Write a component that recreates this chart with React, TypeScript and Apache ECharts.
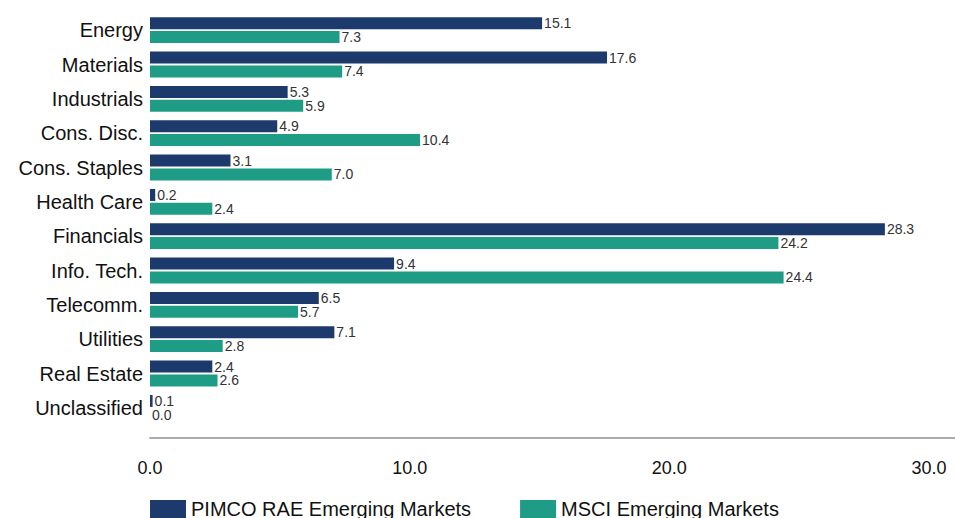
import React, { useEffect, useRef } from "react";
import * as echarts from "echarts";

const categories = [
  "Energy",
  "Materials",
  "Industrials",
  "Cons. Disc.",
  "Cons. Staples",
  "Health Care",
  "Financials",
  "Info. Tech.",
  "Telecomm.",
  "Utilities",
  "Real Estate",
  "Unclassified",
];
const pimcoValues = [15.1, 17.6, 5.3, 4.9, 3.1, 0.2, 28.3, 9.4, 6.5, 7.1, 2.4, 0.1];
const msciValues = [7.3, 7.4, 5.9, 10.4, 7.0, 2.4, 24.2, 24.4, 5.7, 2.8, 2.6, 0.0];
const seriesNames = ["PIMCO RAE Emerging Markets", "MSCI Emerging Markets"];
const xTicks = [0, 10, 20, 30];

const FONT = "'Liberation Sans', Arial, Helvetica, sans-serif";
const NAVY = "#1d3a6d";
const TEAL = "#1f9c86";

export default function App() {
  const ref = useRef<HTMLDivElement>(null);
  useEffect(() => {
    if (!ref.current) return;
    const chart = echarts.init(ref.current, null, { renderer: "svg" });
    const label = {
      show: true,
      position: "right" as const,
      distance: 2,
      color: "#333",
      fontFamily: FONT,
      fontSize: 14,
      formatter: (p: any) => Number(p.value).toFixed(1),
    };
    chart.setOption({
      animation: false,
      textStyle: { fontFamily: FONT },
      grid: { left: 150, right: 0, top: 13, bottom: 93, containLabel: false },
      legend: {
        left: 150,
        top: 499,
        padding: 0,
        itemWidth: 36,
        itemHeight: 18,
        itemGap: 49,
        icon: "rect",
        textStyle: { fontFamily: FONT, fontSize: 20, color: "#111" },
        data: seriesNames,
      },
      xAxis: {
        type: "value",
        min: 0,
        max: 31,
        interval: 10,
        offset: 13,
        splitLine: { show: false },
        axisTick: { show: false },
        axisLine: { show: true, lineStyle: { color: "#aaaaaa", width: 2 } },
        axisLabel: {
          showMaxLabel: false,
          margin: 21,
          fontSize: 18,
          color: "#111",
          fontFamily: FONT,
          formatter: (v: number) => (xTicks.includes(v) ? v.toFixed(1) : ""),
        },
      },
      yAxis: {
        type: "category",
        inverse: true,
        data: categories,
        axisLine: { show: false },
        axisTick: { show: false },
        axisLabel: { margin: 7, fontSize: 20, color: "#111", fontFamily: FONT },
      },
      series: [
        {
          name: seriesNames[0],
          type: "bar",
          data: pimcoValues,
          itemStyle: { color: NAVY },
          barWidth: 12,
          barGap: "15%",
          label,
        },
        {
          name: seriesNames[1],
          type: "bar",
          data: msciValues,
          itemStyle: { color: TEAL },
          barWidth: 12,
          barGap: "15%",
          label,
        },
      ],
    });
    return () => chart.dispose();
  }, []);
  return (
    <div
      ref={ref}
      style={{ position: "fixed", left: 0, top: 0, width: 955, height: 518, background: "#fff" }}
    />
  );
}
